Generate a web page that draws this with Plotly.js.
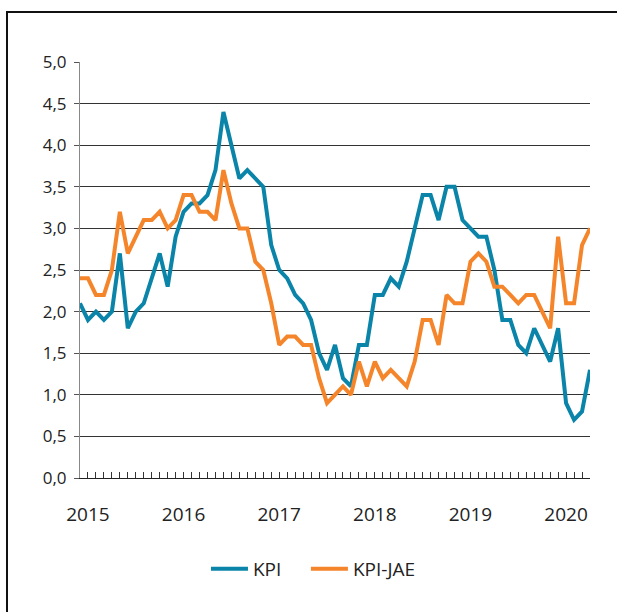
<!DOCTYPE html>
<html>
<head>
<meta charset="utf-8">
<script src="https://cdn.plot.ly/plotly-3.0.1.min.js"></script>
<style>
  html, body { margin: 0; padding: 0; background: #fff; }
  #wrap { position: relative; width: 617px; height: 612px; overflow: hidden; }
  #frame { position: absolute; left: 6px; top: 11px; width: 640px; height: 640px;
           border-top: 2px solid #111; border-left: 2px solid #111; }
  #chart { position: absolute; left: 0; top: 0; width: 617px; height: 612px; }
</style>
</head>
<body>
<div id="wrap">
  <div id="frame"></div>
  <div id="chart"></div>
</div>
<script>
// Months Jan 2015 - May 2020
const months = [];
for (let y = 2015; y <= 2020; y++) {
  for (let m = 1; m <= 12; m++) {
    if (y === 2020 && m > 5) break;
    months.push(y + '-' + String(m).padStart(2, '0'));
  }
}
const yearLabels = ['2015', '2016', '2017', '2018', '2019', '2020'];

const kpi = [2.1,1.9,2.0,1.9,2.0,2.7,1.8,2.0,2.1,2.4,2.7,2.3,
             2.9,3.2,3.3,3.3,3.4,3.7,4.4,4.0,3.6,3.7,3.6,3.5,
             2.8,2.5,2.4,2.2,2.1,1.9,1.5,1.3,1.6,1.2,1.1,1.6,
             1.6,2.2,2.2,2.4,2.3,2.6,3.0,3.4,3.4,3.1,3.5,3.5,
             3.1,3.0,2.9,2.9,2.5,1.9,1.9,1.6,1.5,1.8,1.6,1.4,
             1.8,0.9,0.7,0.8,1.3];

const kpiJae = [2.4,2.4,2.2,2.2,2.5,3.2,2.7,2.9,3.1,3.1,3.2,3.0,
                3.1,3.4,3.4,3.2,3.2,3.1,3.7,3.3,3.0,3.0,2.6,2.5,
                2.1,1.6,1.7,1.7,1.6,1.6,1.2,0.9,1.0,1.1,1.0,1.4,
                1.1,1.4,1.2,1.3,1.2,1.1,1.4,1.9,1.9,1.6,2.2,2.1,
                2.1,2.6,2.7,2.6,2.3,2.3,2.2,2.1,2.2,2.2,2.0,1.8,
                2.9,2.1,2.1,2.8,3.0];

const seriesNames = ['KPI', 'KPI-JAE'];

// tick text: year label placed one month after January
const tickText = months.map((m) => {
  const yr = m.slice(0, 4);
  const mo = m.slice(5);
  return mo === '02' && yearLabels.includes(yr) ? yr : '';
});

const traces = [
  { x: months, y: kpi, name: seriesNames[0], type: 'scatter', mode: 'lines',
    line: { color: '#0a84a8', width: 4 }, cliponaxis: false, legend: 'legend' },
  { x: months, y: kpiJae, name: seriesNames[1], type: 'scatter', mode: 'lines',
    line: { color: '#f5852a', width: 4 }, cliponaxis: false, legend: 'legend2' }
];

const legendCommon = { orientation: 'h', xanchor: 'left', y: -0.173, yanchor: 'top',
                       font: { size: 19, color: '#222' }, itemwidth: 37,
                       bgcolor: 'rgba(0,0,0,0)' };

const layout = {
  width: 617, height: 612,
  margin: { l: 80, r: 27, t: 62, b: 134 },
  paper_bgcolor: 'rgba(0,0,0,0)',
  plot_bgcolor: 'rgba(0,0,0,0)',
  separators: ',.',
  font: { family: '"Open Sans", "Noto Sans", sans-serif', size: 17, color: '#222' },
  showlegend: true,
  legend: Object.assign({}, legendCommon, { x: 0.247 }),
  legend2: Object.assign({}, legendCommon, { x: 0.443 }),
  xaxis: {
    type: 'category',
    range: [0, months.length - 1],
    tickmode: 'array',
    tickvals: months,
    ticktext: tickText,
    ticks: 'inside', ticklen: 6, tickcolor: '#333', tickwidth: 1,
    showline: true, linecolor: '#222', linewidth: 1,
    showgrid: false, zeroline: false,
    tickangle: 0,
    ticklabelstandoff: 19,
    tickfont: { size: 19, color: '#222' },
    fixedrange: true
  },
  yaxis: {
    range: [0, 5],
    dtick: 0.5,
    tick0: 0,
    tickformat: '.1f',
    ticks: 'outside', ticklen: 5, tickcolor: '#555', tickwidth: 1,
    showline: true, linecolor: '#888', linewidth: 1,
    showgrid: true, gridcolor: '#333', gridwidth: 1,
    zeroline: false,
    ticklabelstandoff: 4,
    tickfont: { size: 17, color: '#222' },
    fixedrange: true
  }
};

Plotly.newPlot('chart', traces, layout, { displayModeBar: false, staticPlot: true });
</script>
</body>
</html>
